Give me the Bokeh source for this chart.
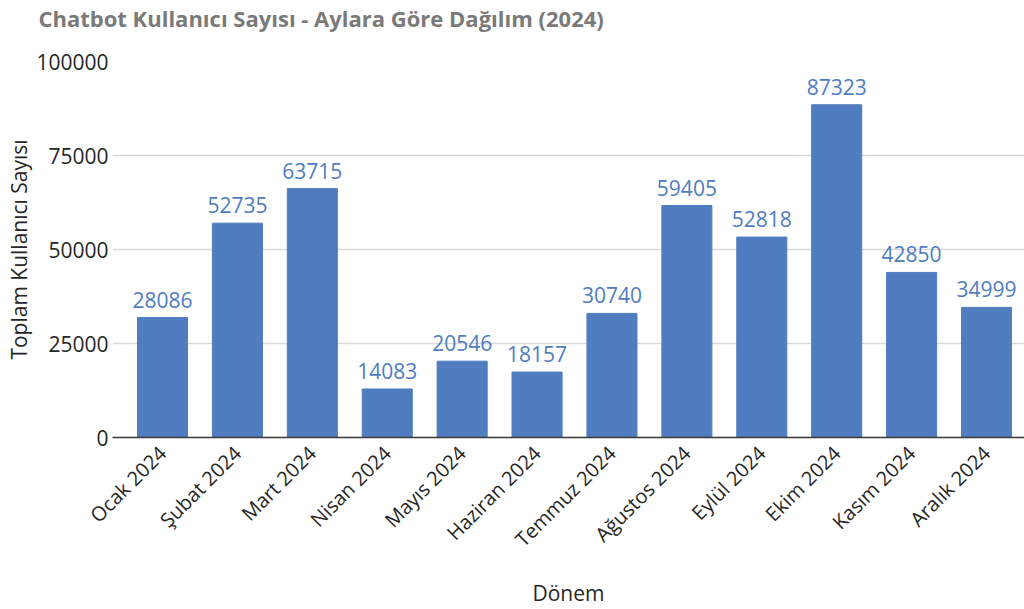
import math
from bokeh.plotting import figure
from bokeh.models import Range1d, FixedTicker, NumeralTickFormatter, LabelSet, ColumnDataSource, Title
from bokeh.embed import file_html
from bokeh.resources import INLINE
from bokeh.core.properties import value

months = ["Ocak 2024", "Şubat 2024", "Mart 2024", "Nisan 2024", "Mayıs 2024", "Haziran 2024",
          "Temmuz 2024", "Ağustos 2024", "Eylül 2024", "Ekim 2024", "Kasım 2024", "Aralık 2024"]
bar_heights = [31900, 57000, 66200, 12900, 20300, 17400, 33000, 61700, 53300, 88500, 43900, 34600]
label_values = [28086, 52735, 63715, 14083, 20546, 18157, 30740, 59405, 52818, 87323, 42850, 34999]
y_ticks = [0, 25000, 50000, 75000, 100000]

FONT = "Open Sans"
BAR = "#4f7dbf"
TXT = "#262626"

idx = list(range(len(months)))
src = ColumnDataSource(dict(x=idx, top=bar_heights, label=[str(v) for v in label_values]))

p = figure(width=1024, height=609, output_backend="svg", toolbar_location=None,
           x_range=Range1d(-0.6676, 11.507), y_range=Range1d(0, 100000),
           min_border_left=112, min_border_right=0, min_border_top=61, min_border_bottom=171)
p.outline_line_color = None
p.background_fill_color = "white"

# spacer between frame and title (closest to frame)
p.add_layout(Title(text=" ", text_font_size="10px", standoff=14), "above")

p.title.text = "Chatbot Kullanıcı Sayısı - Aylara Göre Dağılım (2024)"
p.title.align = "left"
p.title.vertical_align = "top"
p.title.standoff = 0
p.title.offset = -74
p.title.text_font = FONT
p.title.text_font_size = "22px"
p.title.text_font_style = "bold"
p.title.text_color = "#7a7a7a"

p.vbar(x="x", top="top", width=0.668, source=src, color=BAR)
labels = LabelSet(x="x", y="top", text="label", source=src, text_align="center",
                  text_baseline="alphabetic", y_offset=10, text_font=value(FONT),
                  text_font_size=value("21px"), text_color=BAR)
p.add_layout(labels)

p.xgrid.visible = False
p.ygrid.grid_line_color = "#d9d9d9"
p.ygrid.grid_line_width = 1.5

p.xaxis.ticker = FixedTicker(ticks=idx)
p.xaxis.major_label_overrides = {i: m for i, m in enumerate(months)}
p.xaxis.major_label_orientation = math.pi / 4
p.xaxis.axis_label = "Dönem"
p.xaxis.axis_line_color = "#3a3a3a"
p.xaxis.axis_line_width = 1.5
p.xaxis.major_label_standoff = 12
p.xaxis.axis_label_standoff = 14

p.yaxis.ticker = FixedTicker(ticks=y_ticks)
p.yaxis.formatter = NumeralTickFormatter(format="0")
p.yaxis.axis_label = "Toplam Kullanıcı Sayısı"
p.yaxis.axis_line_color = None
p.yaxis.major_label_standoff = 4
p.yaxis.axis_label_standoff = 0

for ax in (p.xaxis[0], p.yaxis[0]):
    ax.major_tick_line_color = None
    ax.minor_tick_line_color = None
    ax.major_tick_out = 0
    ax.major_tick_in = 0
    ax.minor_tick_out = 0
    ax.minor_tick_in = 0
    ax.major_label_text_font = FONT
    ax.major_label_text_color = TXT
    ax.axis_label_text_font = FONT
    ax.axis_label_text_font_size = "21px"
    ax.axis_label_text_font_style = "normal"
    ax.axis_label_text_color = TXT
p.xaxis.major_label_text_font_size = "20px"
p.yaxis.major_label_text_font_size = "21px"

open("out.html", "w").write(file_html(p, INLINE))
